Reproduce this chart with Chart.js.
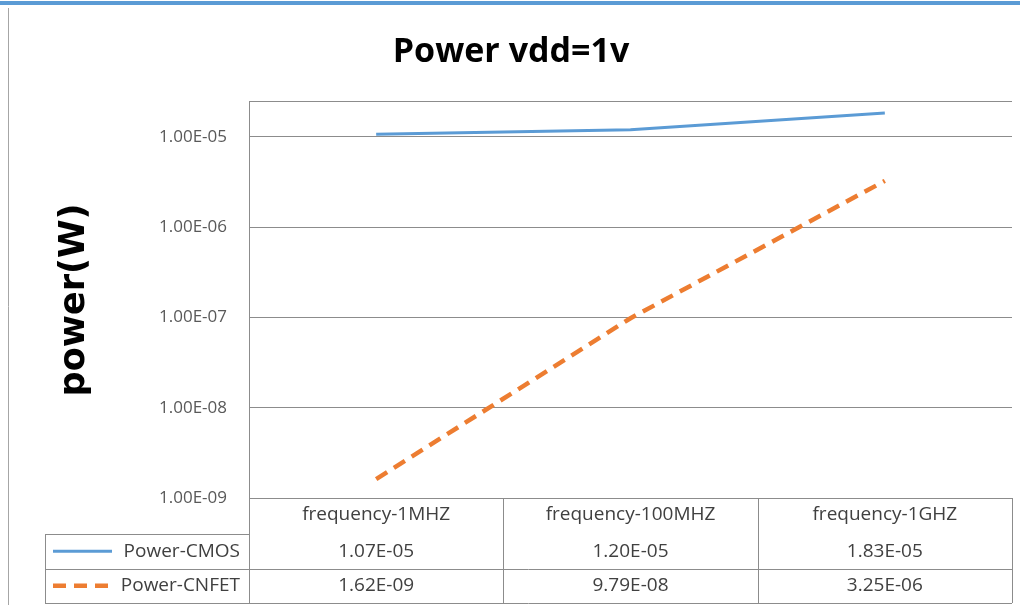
<!DOCTYPE html>
<html>
<head>
<meta charset="utf-8">
<script src="https://cdn.jsdelivr.net/npm/chart.js@4"></script>
<style>
  body { margin: 0; background: #fff; }
  #wrap { width: 1020px; height: 612px; position: relative; }
</style>
</head>
<body>
<div id="wrap"><canvas id="powerChart"></canvas></div>
<script>
const categories = ["frequency-1MHZ", "frequency-100MHZ", "frequency-1GHZ"];
const cmosPower = [1.07e-5, 1.2e-5, 1.83e-5];
const cnfetPower = [1.62e-9, 9.79e-8, 3.25e-6];
const yTicks = [1e-9, 1e-8, 1e-7, 1e-6, 1e-5];
const yMax = 2.44e-5;

const gridColor = "#8c8c8c";
const textColor = "#404040";

const sci = (v) => {
  const [m, e] = v.toExponential(2).split("e");
  const n = Math.abs(Number(e));
  return m + "E" + (Number(e) < 0 ? "-" : "+") + String(n).padStart(2, "0");
};

// frame + data table under the plot
const tablePlugin = {
  id: "dataTable",
  beforeDraw: (chart) => {
    const ctx = chart.ctx;
    ctx.save();
    ctx.fillStyle = "#fff";
    ctx.fillRect(0, 0, chart.width, chart.height);
    ctx.fillStyle = "#5b9bd5";
    ctx.fillRect(0, 1, chart.width, 4);
    ctx.strokeStyle = "#a6a6a6";
    ctx.lineWidth = 1;
    ctx.beginPath();
    ctx.moveTo(8.5, 8);
    ctx.lineTo(8.5, 605);
    ctx.stroke();
    ctx.restore();
  },
  afterDraw: (chart) => {
    const ctx = chart.ctx;
    const area = chart.chartArea;
    const colW = (area.right - area.left) / categories.length;
    const headerY = area.bottom + 17;
    const rowTop = area.bottom + 36;
    const rowH = 34.5;
    const legLeft = 45;

    ctx.save();
    ctx.strokeStyle = gridColor;
    ctx.lineWidth = 1;
    ctx.beginPath();
    // axis line continues down
    ctx.moveTo(area.left + 0.5, area.bottom);
    ctx.lineTo(area.left + 0.5, rowTop + rowH * 2);
    for (let i = 1; i <= categories.length; i++) {
      const x = Math.round(area.left + colW * i) + 0.5;
      ctx.moveTo(x, area.bottom);
      ctx.lineTo(x, rowTop + rowH * 2);
    }
    ctx.moveTo(legLeft + 0.5, rowTop);
    ctx.lineTo(legLeft + 0.5, rowTop + rowH * 2);
    ctx.moveTo(legLeft, Math.round(rowTop) + 0.5);
    ctx.lineTo(area.left, Math.round(rowTop) + 0.5);
    for (let r = 1; r <= 2; r++) {
      const y = Math.round(rowTop + rowH * r) + 0.5;
      ctx.moveTo(legLeft, y);
      ctx.lineTo(area.right, y);
    }
    ctx.stroke();

    ctx.fillStyle = textColor;
    ctx.font = "19px 'Open Sans'";
    ctx.textAlign = "center";
    ctx.textBaseline = "middle";
    categories.forEach((c, i) => {
      ctx.fillText(c, area.left + colW * (i + 0.5), headerY);
    });

    chart.data.datasets.forEach((ds, r) => {
      const cy = rowTop + rowH * (r + 0.5);
      ctx.fillStyle = textColor;
      ctx.textAlign = "center";
      ds.data.forEach((v, i) => {
        ctx.fillText(sci(v), area.left + colW * (i + 0.5), cy);
      });
      ctx.textAlign = "right";
      ctx.fillText(ds.label, area.left - 9, cy);
      ctx.strokeStyle = ds.borderColor;
      ctx.lineWidth = ds.borderWidth;
      ctx.setLineDash(ds.borderDash || []);
      ctx.beginPath();
      ctx.moveTo(53, cy);
      ctx.lineTo(112, cy);
      ctx.stroke();
      ctx.setLineDash([]);
    });
    ctx.restore();
  },
};

const ctx = document.getElementById("powerChart").getContext("2d");
new Chart(ctx, {
  type: "line",
  data: {
    labels: categories,
    datasets: [
      {
        label: "Power-CMOS",
        data: cmosPower,
        borderColor: "#5b9bd5",
        borderWidth: 3,
        pointRadius: 0,
        tension: 0,
        fill: false,
      },
      {
        label: "Power-CNFET",
        data: cnfetPower,
        borderColor: "#ed7d31",
        borderWidth: 4.5,
        borderDash: [13, 8],
        pointRadius: 0,
        tension: 0,
        fill: false,
      },
    ],
  },
  options: {
    responsive: true,
    maintainAspectRatio: false,
    animation: false,
    layout: {
      padding: { top: 0, left: 10, right: 8, bottom: 114 },
    },
    plugins: {
      legend: { display: false },
      tooltip: { enabled: false },
      title: {
        display: true,
        text: "Power vdd=1v",
        color: "#000",
        font: { family: "'Open Sans'", size: 34, weight: "bold" },
        padding: { top: 32, bottom: 29 },
      },
    },
    scales: {
      x: {
        type: "category",
        offset: true,
        display: false,
      },
      y: {
        type: "logarithmic",
        min: yTicks[0],
        max: yMax,
        afterBuildTicks: (scale) => {
          scale.ticks = yTicks.concat([yMax]).map((v) => ({ value: v }));
        },
        afterFit: (scale) => {
          scale.width = 239;
        },
        ticks: {
          autoSkip: false,
          padding: 22,
          color: "#595959",
          font: { family: "'Open Sans'", size: 17 },
          callback: (v) => (yTicks.includes(v) ? sci(v) : ""),
        },
        grid: {
          color: gridColor,
          drawTicks: false,
        },
        border: { color: gridColor },
        title: {
          display: true,
          text: "power(W)",
          color: "#000",
          font: { family: "'DejaVu Sans'", size: 35, weight: "bold" },
          padding: { top: 44, bottom: 0 },
        },
      },
    },
  },
  plugins: [tablePlugin],
});
</script>
</body>
</html>
